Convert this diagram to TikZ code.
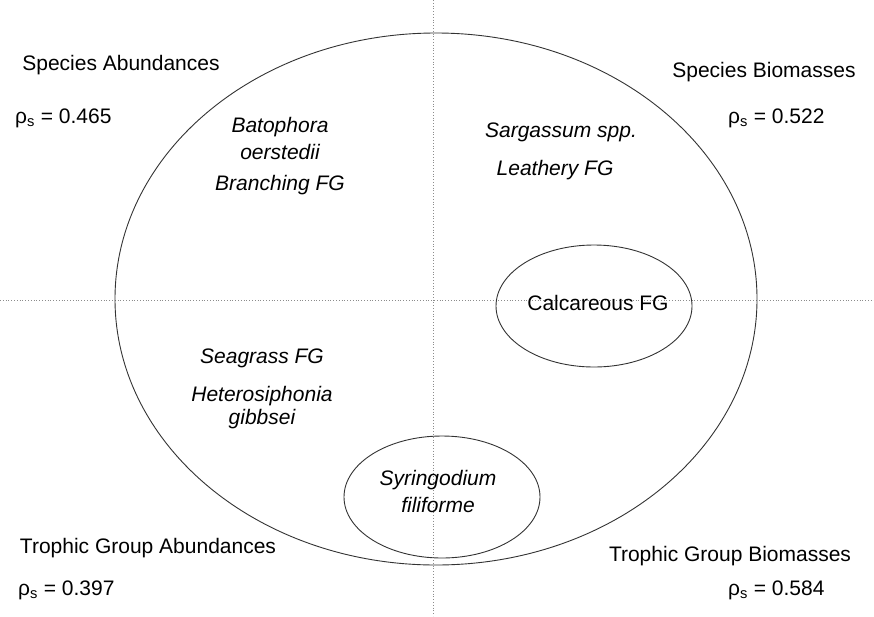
\documentclass[tikz,border=0pt]{standalone}
\usepackage{fontspec}
\setmainfont{Liberation Sans}
\usetikzlibrary{positioning}

\tikzstyle{title} = [font=\fontsize{21}{25}\selectfont,inner sep=0pt,text centered]
\tikzstyle{rho} = [title,anchor=west]
\tikzstyle{taxon} = [font=\fontsize{21}{25}\selectfont\itshape,inner sep=0pt,text centered]
\tikzstyle{axis} = [draw=black!45,dotted,line width=0.8pt]
\tikzstyle{ring} = [draw=black!80,line width=0.9pt]

\begin{document}
\begin{tikzpicture}[x=1pt,y=-1pt,node distance=23pt]
	\useasboundingbox (0,0) rectangle (874,616);
	\draw [axis] (0,300) -- (874,300);
	\draw [axis] (433,0) -- (433,616);
	\draw [ring] (436,299) ellipse [x radius=321pt,y radius=266pt];
	\draw [ring] (594,306) ellipse [x radius=98pt,y radius=61pt];
	\draw [ring] (442,497) ellipse [x radius=98pt,y radius=61pt];
	% quadrant titles
	\node (spab) [title] at (121,65) {Species Abundances};
	\node (spabrho) [rho] at (15,118) {ρ\textsubscript{s} = 0.465};
	\node (spbio) [title] at (764,72) {Species Biomasses};
	\node (spbiorho) [rho] at (728,118) {ρ\textsubscript{s} = 0.522};
	\node (trab) [title] at (148,548) {Trophic Group Abundances};
	\node (trabrho) [rho] at (18,590) {ρ\textsubscript{s} = 0.397};
	\node (trbio) [title] at (730,556) {Trophic Group Biomasses};
	\node (trbiorho) [rho] at (728,590) {ρ\textsubscript{s} = 0.584};
	% taxa
	\node (bato) [taxon] at (280,127) {Batophora};
	\node (oers) [taxon,below of=bato,node distance=25pt] {oerstedii};
	\node (branch) [taxon] at (280,185) {Branching FG};
	\node (sarg) [taxon] at (561,132) {Sargassum spp.};
	\node (leath) [taxon] at (555,170) {Leathery FG};
	\node (calc) [title] at (598,303) {Calcareous FG};
	\node (seag) [taxon] at (262,358) {Seagrass FG};
	\node (hetero) [taxon] at (262,396) {Heterosiphonia};
	\node (gibb) [taxon,below of=hetero] {gibbsei};
	\node (syrin) [taxon] at (438,480) {Syringodium};
	\node (filif) [taxon,below of=syrin,node distance=25pt] {filiforme};
\end{tikzpicture}
\end{document}
